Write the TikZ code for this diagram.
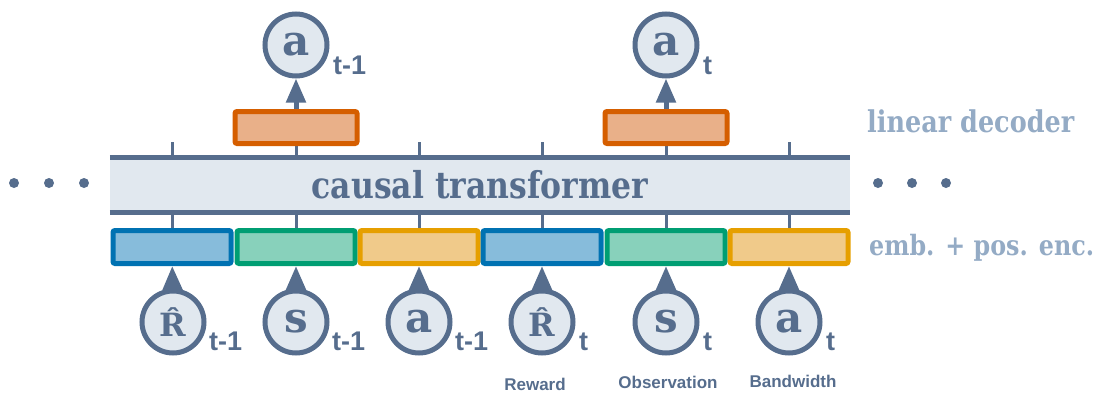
\documentclass[tikz,border=0pt]{standalone}
\usepackage{fontspec}
\setmainfont{DejaVu Serif}
\newfontfamily\narrowserif[FakeStretch=0.85]{DejaVu Serif}
\newfontfamily\labelfont{Liberation Sans}
\usepackage{xcolor}
\usetikzlibrary{arrows.meta}

\definecolor{navy}{HTML}{566D8D}
\definecolor{paleblue}{HTML}{E1E8EF}
\definecolor{labelgray}{HTML}{94ABC5}
\definecolor{decline}{HTML}{D55E00}
\definecolor{decfill}{HTML}{E9B089}
\definecolor{retline}{HTML}{0072B2}
\definecolor{retfill}{HTML}{87BCDB}
\definecolor{stline}{HTML}{009E73}
\definecolor{stfill}{HTML}{88D1BB}
\definecolor{actline}{HTML}{E69F00}
\definecolor{actfill}{HTML}{F0CA8A}

\begin{document}
\begin{tikzpicture}[
  x=1pt, y=-1pt,
  token/.style={circle, draw=navy, line width=5pt, fill=paleblue,
    minimum size=62pt, inner sep=0pt, text=navy,
    font=\bfseries\fontsize{42}{42}\selectfont},
  emb/.style={draw, line width=5pt, rounded corners=2pt,
    minimum width=118pt, minimum height=33pt, inner sep=0pt},
  dec/.style={emb, draw=decline, fill=decfill, minimum width=122pt, minimum height=32pt},
  sub/.style={anchor=base west, inner sep=0pt, text=navy,
    font=\labelfont\bfseries\fontsize{27}{27}\selectfont},
  note/.style={inner sep=0pt, text=navy, font=\labelfont\bfseries\fontsize{17}{17}\selectfont},
  side/.style={anchor=base west, inner sep=0pt, text=labelgray,
    font=\narrowserif\bfseries\fontsize{29}{29}\selectfont},
  rail/.style={draw=navy, line width=5pt},
  tick/.style={draw=navy, line width=3pt},
  arrow/.style={-{Triangle[length=24pt, width=19pt]}, line width=5pt, draw=navy}
]
\useasboundingbox (0,0) rectangle (1101,394);

% transformer block
\node[fill=paleblue, minimum width=740pt, minimum height=54pt, inner sep=0pt,
  text=navy, font=\narrowserif\bfseries\fontsize{37}{37}\selectfont] (trans) at (480,185) {causal transformer};
\draw[rail] (trans.north west) -- (trans.north east);
\draw[rail] (trans.south west) -- (trans.south east);

% embeddings
\node[emb, draw=retline, fill=retfill] (emb1) at (172,247) {};
\node[emb, draw=stline, fill=stfill] (emb2) at (296,247) {};
\node[emb, draw=actline, fill=actfill] (emb3) at (419,247) {};
\node[emb, draw=retline, fill=retfill] (emb4) at (542,247) {};
\node[emb, draw=stline, fill=stfill] (emb5) at (666,247) {};
\node[emb, draw=actline, fill=actfill] (emb6) at (789,247) {};

% input tokens
\node[token, font=\bfseries\fontsize{32}{32}\selectfont] (rtg1) at (173,322) {\^R};
\node[token] (st1) at (296,322) {s};
\node[token] (act1) at (419,322) {a};
\node[token, font=\bfseries\fontsize{32}{32}\selectfont] (rtg2) at (542,322) {\^R};
\node[token] (st2) at (666,322) {s};
\node[token] (act2) at (789,322) {a};

\node[sub] (rtg1sub) at (209,350) {t-1};
\node[sub] (st1sub) at (332,350) {t-1};
\node[sub] (act1sub) at (455,350) {t-1};
\node[sub] (rtg2sub) at (579,350) {t};
\node[sub] (st2sub) at (703,350) {t};
\node[sub] (act2sub) at (826,350) {t};

\node[note] (reward) at (535,384) {Reward};
\node[note] (observation) at (668,382) {Observation};
\node[note] (bandwidth) at (793,381) {Bandwidth};

\foreach \i/\tok in {1/rtg1, 2/st1, 3/act1, 4/rtg2, 5/st2, 6/act2} {
  \draw[arrow] (\tok) -- (emb\i);
  \draw[tick] (emb\i.north) -- (emb\i.north |- trans.south);
  \draw[tick] (emb\i.north |- trans.north) -- ++(0,-16);
}

% decoder and predicted actions
\node[dec] (dec1) at (296,127.5) {};
\node[dec] (dec2) at (666,127.5) {};
\node[token] (out1) at (296,45) {a};
\node[token] (out2) at (666,45) {a};
\node[sub] (out1sub) at (333,74) {t-1};
\node[sub] (out2sub) at (703,74) {t};
\draw[arrow] (dec1) -- (out1);
\draw[arrow] (dec2) -- (out2);

% side labels
\node[side, font=\narrowserif\bfseries\fontsize{30}{30}\selectfont] (declabel) at (867,132) {linear decoder};
\node[side, font=\narrowserif\bfseries\fontsize{28}{28}\selectfont] (emblabel) at (869,255) {emb. + pos. enc.};

% dots
\foreach \x in {14,49,84,878,912,946}
  \fill[navy] (\x,183) circle (5pt);

\end{tikzpicture}
\end{document}
